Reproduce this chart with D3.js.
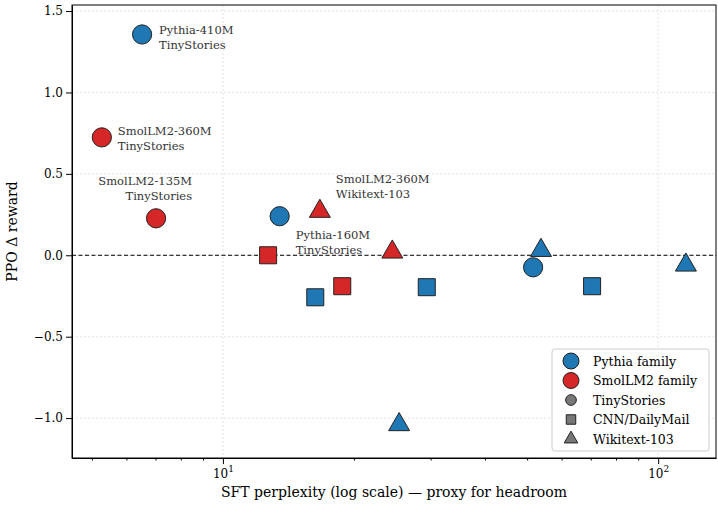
<!DOCTYPE html>
<html><head><meta charset="utf-8">
<script src="https://cdn.jsdelivr.net/npm/d3@7"></script>
<style>body{margin:0;background:#fff}text{font-family:"DejaVu Serif",serif}</style>
</head><body><svg id="c" width="718" height="509"></svg>
<script>
// family, dataset, sft ppl, ppo delta
const family = ['Pythia','Pythia','Pythia','SmolLM2','SmolLM2','Pythia','Pythia','Pythia','SmolLM2','SmolLM2','Pythia','Pythia','Pythia','SmolLM2','SmolLM2'];
const dataset = ['TinyStories','TinyStories','TinyStories','TinyStories','TinyStories','CNN/DailyMail','CNN/DailyMail','CNN/DailyMail','CNN/DailyMail','CNN/DailyMail','Wikitext-103','Wikitext-103','Wikitext-103','Wikitext-103','Wikitext-103'];
const ppl = [6.52,13.5,51.6,5.27,7.02,16.3,29.4,70.5,12.7,18.8,53.8,25.4,115.8,16.7,24.5];
const delta = [1.356,0.24,-0.074,0.724,0.227,-0.258,-0.196,-0.19,0,-0.19,0.03,-1.04,-0.06,0.27,0.02];
const labels = [['Pythia-410M','TinyStories'],['Pythia-160M','TinyStories'],null,['SmolLM2-360M','TinyStories'],['SmolLM2-135M','TinyStories'],null,null,null,null,null,null,null,null,['SmolLM2-360M','Wikitext-103'],null];
const labelOff = [[17,0],[16,23],null,[16,-2],[36,-33],null,null,null,null,null,null,null,null,[16,-28],null];
const labelAnchor = ['start','start',null,'start','end',null,null,null,null,null,null,null,null,'start',null];
const xTicks = [10,100];
const yTicks = [-1,-0.5,0,0.5,1,1.5];

const colors = {Pythia:'#1f77b4', SmolLM2:'#d62728'};
const shapes = {'TinyStories':d3.symbolCircle,'CNN/DailyMail':d3.symbolSquare,'Wikitext-103':d3.symbolTriangle};
const sizes = {'TinyStories':290,'CNN/DailyMail':290,'Wikitext-103':190};

const svg = d3.select('#c');
const m = {l:72,r:716,t:5,b:458};
const x = d3.scaleLog().domain([4.5,135.8]).range([m.l,m.r]);
const y = d3.scaleLinear().domain([-1.245,1.537]).range([m.b,m.t]);

// grid
const g = svg.append('g');
g.selectAll('.gx').data(xTicks).join('line').attr('x1',x).attr('x2',x).attr('y1',m.t).attr('y2',m.b)
  .attr('stroke','#ddd').attr('stroke-width',0.8).attr('stroke-dasharray','2,2');
g.selectAll('.gy').data(yTicks).join('line').attr('y1',y).attr('y2',y).attr('x1',m.l).attr('x2',m.r)
  .attr('stroke','#ddd').attr('stroke-width',0.8).attr('stroke-dasharray','2,2');

svg.append('line').attr('x1',m.l).attr('x2',m.r).attr('y1',y(0)).attr('y2',y(0))
  .attr('stroke','#000').attr('stroke-width',1).attr('stroke-dasharray','4,2.5');

// axes
const minor = [5,6,7,8,9,20,30,40,50,60,70,80,90];
const xa = svg.append('g').attr('transform',`translate(0,${m.b})`)
  .call(d3.axisBottom(x).tickValues(xTicks).tickFormat(()=>'').tickSizeOuter(0));
xa.selectAll('.tick').append('text').attr('fill','#000').attr('y',20).attr('font-size',12).attr('text-anchor','middle')
  .text('10').append('tspan').attr('dy',-6).attr('font-size',9).text((d,i)=>i?'2':'1');
svg.append('g').attr('transform',`translate(0,${m.b})`)
  .call(d3.axisBottom(x).tickValues(minor).tickFormat('').tickSize(2.5).tickSizeOuter(0)).select('.domain').remove();
svg.append('g').attr('transform',`translate(${m.l},0)`)
  .call(d3.axisLeft(y).tickValues(yTicks).tickFormat(d3.format('.1f')).tickSizeOuter(0))
  .selectAll('text').attr('font-size',12).attr('fill','#000').style('font-family','"DejaVu Serif",serif');
svg.append('rect').attr('x',m.l).attr('y',m.t).attr('width',m.r-m.l).attr('height',m.b-m.t)
  .attr('fill','none').attr('stroke','#000').attr('stroke-width',1);

svg.append('text').attr('x',(m.l+m.r)/2).attr('y',497).attr('text-anchor','middle').attr('font-size',14)
  .text('SFT perplexity (log scale) — proxy for headroom');
svg.append('text').attr('transform',`translate(17,${(m.t+m.b)/2}) rotate(-90)`).attr('text-anchor','middle').attr('font-size',14)
  .text('PPO Δ reward');

// points
const idx = d3.range(ppl.length);
svg.append('g').selectAll('path').data(idx).join('path')
  .attr('transform',i=>`translate(${x(ppl[i])},${y(delta[i])})`)
  .attr('d',i=>d3.symbol(shapes[dataset[i]],sizes[dataset[i]])())
  .attr('fill',i=>colors[family[i]]).attr('stroke','#222').attr('stroke-width',1);

// labels
idx.filter(i=>labels[i]).forEach(i=>{
  const lx = x(ppl[i])+labelOff[i][0];
  const t = svg.append('text').attr('font-size',11.5).attr('fill','#333').attr('text-anchor',labelAnchor[i])
    .attr('x',lx).attr('y',y(delta[i])+labelOff[i][1]);
  labels[i].forEach((s,k)=>t.append('tspan').attr('x',lx).attr('dy',k?15:0).text(s));
});

// legend
const leg = [
  {t:'Pythia family',s:d3.symbolCircle,c:colors.Pythia,z:200},
  {t:'SmolLM2 family',s:d3.symbolCircle,c:colors.SmolLM2,z:200},
  {t:'TinyStories',s:d3.symbolCircle,c:'#777',z:90},
  {t:'CNN/DailyMail',s:d3.symbolSquare,c:'#777',z:90},
  {t:'Wikitext-103',s:d3.symbolTriangle,c:'#777',z:80}];
const lg = svg.append('g');
lg.append('rect').attr('x',552).attr('y',349).attr('width',157).attr('height',102).attr('rx',3)
  .attr('fill','#fff').attr('fill-opacity',0.9).attr('stroke','#ccc');
leg.forEach((d,i)=>{
  const yy = 361+i*19.5;
  lg.append('path').attr('transform',`translate(571,${yy})`).attr('d',d3.symbol(d.s,d.z)())
    .attr('fill',d.c).attr('stroke','#222');
  lg.append('text').attr('x',593).attr('y',yy+4.5).attr('font-size',12.5).text(d.t);
});
</script></body></html>
